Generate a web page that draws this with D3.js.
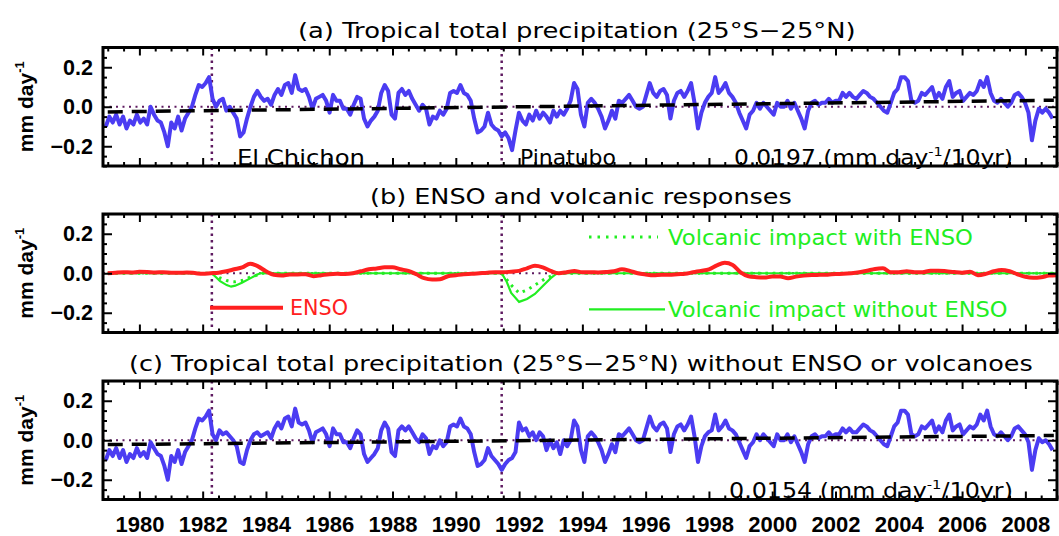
<!DOCTYPE html>
<html><head><meta charset="utf-8">
<script src="https://cdn.jsdelivr.net/npm/d3@7"></script>
<style>body{margin:0;background:#fff}svg{display:block}</style>
</head><body>
<svg id="chart" width="1059" height="536"></svg>
<script>
// ---------------- DATA ----------------
// Tropical precipitation anomalies (mm/day), sampled every ~1.3 months starting 1978.94
const seriesStart = 1978.94;
const seriesStep = 0.1088;
const precipTotal = [
 -0.10,-0.05,-0.08,-0.04,-0.09,-0.05,-0.11,-0.07,-0.09,-0.04,-0.08,-0.06,-0.09,0.00,-0.04,-0.07,-0.08,-0.13,-0.20,-0.08,
 -0.11,-0.05,-0.12,-0.06,-0.03,0.00,0.06,0.11,0.10,0.12,0.15,0.04,0.00,0.03,0.04,-0.02,0.00,-0.03,-0.06,-0.15,
 -0.13,-0.06,0.00,0.05,0.08,0.05,0.03,0.04,0.01,0.06,0.09,0.06,0.11,0.12,0.07,0.16,0.09,0.08,0.09,0.05,
 -0.01,0.04,0.05,0.06,0.03,-0.03,0.06,0.03,0.03,-0.01,-0.01,-0.04,0.01,0.05,0.04,-0.06,-0.10,-0.07,-0.05,-0.02,
 0.07,0.11,0.08,-0.04,-0.06,0.07,0.09,0.06,0.08,0.04,0.01,-0.02,0.01,-0.01,-0.09,-0.05,-0.06,-0.02,-0.04,-0.01,
 0.07,0.08,0.07,0.11,0.07,0.06,0.03,-0.06,-0.13,-0.12,-0.10,-0.03,-0.09,-0.11,-0.12,-0.15,-0.13,-0.16,-0.22,-0.12,
 -0.03,-0.07,-0.09,-0.04,-0.07,-0.02,-0.06,-0.03,-0.05,-0.08,-0.02,-0.05,-0.02,-0.04,-0.01,0.03,0.12,0.09,-0.04,-0.10,
 0.02,0.04,0.02,-0.01,-0.05,-0.11,-0.07,-0.02,-0.06,0.03,0.02,0.04,0.06,0.03,0.00,-0.01,0.00,0.06,0.12,0.07,
 0.05,0.08,0.09,0.06,-0.06,0.03,0.07,0.08,0.05,0.08,0.12,0.02,-0.11,-0.03,0.02,0.05,0.07,0.15,0.07,0.09,
 0.12,0.07,0.05,0.02,-0.03,-0.07,-0.11,-0.04,-0.02,0.02,-0.01,0.02,0.00,-0.02,-0.04,0.02,0.00,0.00,0.03,-0.01,
 0.02,-0.02,-0.06,-0.11,-0.02,0.02,0.03,0.01,0.02,0.02,0.04,0.02,0.03,0.03,0.07,0.05,0.07,0.05,0.04,0.06,
 0.08,0.07,0.05,0.04,0.02,0.00,-0.02,-0.03,0.02,0.07,0.09,0.15,0.15,0.13,0.03,0.02,0.03,0.07,0.06,0.08,
 0.10,0.04,0.07,0.04,0.10,0.13,0.05,0.07,0.08,0.03,0.05,0.07,0.06,0.08,0.13,0.10,0.15,0.07,0.03,0.02,
 0.04,0.02,0.00,0.02,0.06,0.07,0.05,0.02,-0.03,-0.17,-0.07,-0.01,-0.03,-0.01,-0.03,-0.06
];
const precipResidual = [
 -0.10,-0.05,-0.08,-0.04,-0.09,-0.05,-0.11,-0.07,-0.09,-0.04,-0.08,-0.06,-0.09,-0.01,-0.04,-0.07,-0.08,-0.13,-0.20,-0.08,
 -0.11,-0.05,-0.12,-0.06,-0.03,0.00,0.06,0.11,0.10,0.12,0.15,0.03,0.00,0.05,0.03,0.04,0.02,0.00,-0.03,-0.11,
 -0.12,-0.05,0.00,0.03,0.04,0.02,0.03,0.04,0.01,0.06,0.09,0.06,0.11,0.12,0.07,0.16,0.09,0.08,0.09,0.05,
 -0.01,0.04,0.05,0.06,0.03,-0.03,0.06,0.03,0.03,-0.01,-0.01,-0.04,0.01,0.05,0.03,-0.07,-0.11,-0.09,-0.07,-0.04,
 0.05,0.09,0.06,-0.06,-0.08,0.05,0.07,0.05,0.07,0.04,0.01,-0.01,0.03,0.01,-0.07,-0.03,-0.04,0.00,-0.03,-0.01,
 0.07,0.08,0.07,0.11,0.07,0.06,0.03,-0.06,-0.13,-0.12,-0.10,-0.04,-0.08,-0.10,-0.12,-0.15,-0.12,-0.10,-0.09,-0.06,
 0.09,0.05,0.06,0.02,0.04,0.00,0.04,0.02,-0.05,0.00,-0.04,-0.01,-0.07,0.00,-0.03,0.00,0.10,0.07,-0.05,-0.11,
 0.02,0.04,0.02,-0.01,-0.05,-0.11,-0.07,-0.02,-0.06,0.03,0.02,0.04,0.06,0.03,0.00,-0.01,0.00,0.06,0.12,0.07,
 0.05,0.08,0.09,0.06,-0.06,0.03,0.07,0.08,0.05,0.08,0.12,0.02,-0.11,-0.03,0.02,0.04,0.05,0.13,0.05,0.07,
 0.10,0.06,0.05,0.03,-0.01,-0.05,-0.09,-0.03,-0.01,0.03,0.00,0.03,0.01,-0.01,-0.03,0.03,0.00,0.00,0.03,-0.01,
 0.02,-0.02,-0.06,-0.11,-0.02,0.02,0.03,0.01,0.02,0.02,0.04,0.02,0.03,0.03,0.06,0.04,0.06,0.04,0.04,0.06,
 0.08,0.07,0.05,0.04,0.02,0.00,-0.02,-0.03,0.02,0.07,0.09,0.15,0.15,0.13,0.03,0.02,0.03,0.07,0.06,0.08,
 0.10,0.04,0.07,0.04,0.10,0.13,0.05,0.07,0.08,0.03,0.05,0.07,0.06,0.08,0.13,0.10,0.15,0.07,0.03,0.02,
 0.04,0.02,0.00,0.02,0.06,0.07,0.05,0.03,-0.01,-0.15,-0.05,0.01,-0.01,0.00,-0.02,-0.05
];
// ENSO response (mm/day), quarterly from 1979.0
const ensoStart = 1979.0;
const ensoStep = 0.25;
const ensoResponse = [
 0.000,0.003,0.005,0.004, 0.007,0.006,0.004,0.005, 0.003,0.002,0.004,0.001, -0.003,0.000,0.003,0.010,
 0.020,0.030,0.048,0.035, 0.010,-0.008,-0.012,-0.006, -0.006,-0.005,-0.015,-0.010, -0.005,-0.003,-0.004,0.000,
 0.010,0.020,0.024,0.030, 0.030,0.020,0.012,-0.005, -0.025,-0.032,-0.030,-0.015, -0.010,-0.005,-0.003,0.000,
 0.003,0.005,0.005,0.008, 0.012,0.025,0.038,0.030, 0.012,0.000,0.005,0.012, 0.005,0.005,0.004,0.006,
 0.010,0.020,0.012,0.000, -0.006,-0.010,-0.008,-0.008, -0.005,-0.003,0.005,0.012, 0.020,0.040,0.053,0.042,
 0.005,-0.015,-0.020,-0.022, -0.017,-0.017,-0.025,-0.017, -0.012,-0.009,-0.008,-0.007, -0.004,-0.003,0.000,0.005,
 0.013,0.022,0.025,0.005, 0.005,0.010,0.005,0.005, 0.013,0.013,0.010,0.006, 0.003,0.008,-0.010,-0.003,
 0.010,0.017,0.010,-0.005, -0.018,-0.023,-0.020,-0.012, -0.010
];
// Volcanic responses (mm/day)
const volcYears      = [1979.0, 1982.29, 1982.55, 1982.76, 1982.9, 1983.03, 1983.24, 1983.5, 1983.71, 1983.82, 1991.45, 1991.6, 1991.75, 1992.0, 1992.25, 1992.5, 1992.75, 1993.0, 1993.2, 2009.0];
const volcNoEnso     = [0, 0, -0.040, -0.060, -0.068, -0.063, -0.048, -0.026, -0.008, 0, 0, -0.040, -0.100, -0.145, -0.130, -0.105, -0.065, -0.025, 0, 0];
const volcWithEnso   = [0, 0, -0.024, -0.037, -0.042, -0.043, -0.037, -0.020, -0.010, 0, 0, -0.030, -0.060, -0.100, -0.085, -0.060, -0.035, -0.015, 0, 0];
// Linear trends (value at 1979.0 and 2008.9)
const trendYears = [1979.0, 2008.9];
const trendTotal = [-0.026, 0.033];
const trendResidual = [-0.022, 0.024];
// Eruptions
const eruptionNames = ["El Chichon", "Pinatubo"];
const eruptionYears = [1982.29, 1991.45];
// Axis ticks
const yearLabels = [1980,1982,1984,1986,1988,1990,1992,1994,1996,1998,2000,2002,2004,2006,2008];
const yTickLabels = [-0.2, 0.0, 0.2];
const titles = [
  "(a) Tropical total precipitation (25°S\u221225°N)",
  "(b) ENSO and volcanic responses",
  "(c) Tropical total precipitation (25°S\u221225°N) without ENSO or volcanoes"
];
const trendTexts = ["0.0197", "0.0154"];

// ---------------- DRAWING ----------------
const BLUE = "#4b3cf2", RED = "#ff2020", GREEN = "#22ee22", PURPLE = "#5e1a60";
const fReg = "'DejaVu Sans', sans-serif";
const fBold = "'Liberation Sans', Arial, sans-serif";
const svg = d3.select("#chart");
const x = d3.scaleLinear().domain([1978.85, 2009.0]).range([103, 1057]);
const panels = [{top:47.5,bottom:166},{top:214,bottom:332.5},{top:381,bottom:499.5}];
const yOf = p => d3.scaleLinear().domain([-0.3,0.3]).range([p.bottom,p.top]);

const minorX = d3.range(1979, 2009.01, 0.5);
const majorX = yearLabels;
const minorY = d3.range(-0.3, 0.3001, 0.05).map(v => +v.toFixed(2)).filter(v => !yTickLabels.some(m => Math.abs(m - v) < 1e-6));

// stretch text horizontally so that it spans the target width
function fit(t, target) {
  const nat = t.node().getComputedTextLength();
  const x0 = +t.attr("x");
  const s = target / nat;
  t.attr("transform", `translate(${x0},0) scale(${s.toFixed(4)},1) translate(${-x0},0)`);
}
function richText(g, parts, xx, yy, size, opts = {}) {
  const t = g.append("text").attr("x", xx).attr("y", yy)
    .attr("font-family", opts.family || fReg).attr("font-size", size)
    .attr("fill", opts.fill || "#000");
  if (opts.weight) t.attr("font-weight", opts.weight);
  if (opts.anchor) t.attr("text-anchor", opts.anchor);
  let raised = 0;
  parts.forEach(p => {
    if (typeof p === "string") {
      const s = t.append("tspan").text(p);
      if (raised) { s.attr("dy", raised); raised = 0; }
    } else {
      const sh = size * 0.42;
      t.append("tspan").attr("dy", -sh).attr("font-size", size * 0.62).text(p.sup);
      raised = sh;
    }
  });
  return t;
}

panels.forEach((p, i) => {
  const y = yOf(p);
  const g = svg.append("g");
  g.append("line").attr("x1", x(1978.85)).attr("x2", x(2009)).attr("y1", y(0)).attr("y2", y(0))
    .attr("stroke", PURPLE).attr("stroke-width", 2.2).attr("stroke-dasharray", "2,4.5");
  eruptionYears.forEach(ey => {
    g.append("line").attr("x1", x(ey)).attr("x2", x(ey)).attr("y1", p.top).attr("y2", p.bottom)
      .attr("stroke", PURPLE).attr("stroke-width", 2.5).attr("stroke-dasharray", "2.5,4");
  });
  if (i !== 1) {
    const vals = i === 0 ? precipTotal : precipResidual;
    const line = d3.line().x((d, k) => x(seriesStart + k * seriesStep)).y(d => y(d));
    g.append("path").attr("d", line(vals)).attr("fill", "none").attr("stroke", BLUE)
      .attr("stroke-width", 4).attr("stroke-linejoin", "round");
    const tr = i === 0 ? trendTotal : trendResidual;
    g.append("path").attr("d", d3.line().x((d, k) => x(trendYears[k])).y(d => y(d))(tr))
      .attr("fill", "none").attr("stroke", "#000").attr("stroke-width", 3.5).attr("stroke-dasharray", "15,9");
  } else {
    const vl = d3.line().x((d, k) => x(volcYears[k])).y(d => y(d));
    g.append("path").attr("d", vl(volcNoEnso)).attr("fill", "none").attr("stroke", GREEN).attr("stroke-width", 2.2);
    g.append("path").attr("d", vl(volcWithEnso)).attr("fill", "none").attr("stroke", GREEN)
      .attr("stroke-width", 3).attr("stroke-dasharray", "2.5,5");
    const el = d3.line().x((d, k) => x(ensoStart + k * ensoStep)).y(d => y(d)).curve(d3.curveMonotoneX);
    g.append("path").attr("d", el(ensoResponse)).attr("fill", "none").attr("stroke", RED)
      .attr("stroke-width", 4).attr("stroke-linejoin", "round");
    g.append("line").attr("x1", 589).attr("x2", 658).attr("y1", y(0.183)).attr("y2", y(0.183))
      .attr("stroke", GREEN).attr("stroke-width", 3).attr("stroke-dasharray", "2.5,6");
    fit(richText(g, ["Volcanic impact with ENSO"], 668, y(0.183) + 7.5, 21, {fill: GREEN}), 305);
    g.append("line").attr("x1", 589).attr("x2", 665).attr("y1", y(-0.183)).attr("y2", y(-0.183))
      .attr("stroke", GREEN).attr("stroke-width", 2.2);
    fit(richText(g, ["Volcanic impact without ENSO"], 668, y(-0.183) + 7.5, 21, {fill: GREEN}), 340);
    g.append("line").attr("x1", 210).attr("x2", 283).attr("y1", y(-0.175)).attr("y2", y(-0.175))
      .attr("stroke", RED).attr("stroke-width", 4);
    fit(richText(g, ["ENSO"], 290, y(-0.175) + 7.5, 21, {fill: RED}), 58);
  }
  g.append("rect").attr("x", x(1978.85)).attr("y", p.top).attr("width", x(2009) - x(1978.85))
    .attr("height", p.bottom - p.top).attr("fill", "none").attr("stroke", "#000").attr("stroke-width", 3);
  const tickAx = (axisFn, scale, vals, size, tr) => {
    const a = g.append("g").attr("transform", tr).call(axisFn(scale).tickValues(vals).tickSize(size).tickFormat(""));
    a.select(".domain").remove();
    a.selectAll("line").attr("stroke", "#000").attr("stroke-width", 2);
  };
  const minorOnly = minorX.filter(v => !majorX.includes(v));
  tickAx(d3.axisTop, x, majorX, 8, `translate(0,${p.bottom})`);
  tickAx(d3.axisTop, x, minorOnly, 4, `translate(0,${p.bottom})`);
  tickAx(d3.axisBottom, x, majorX, 8, `translate(0,${p.top})`);
  tickAx(d3.axisBottom, x, minorOnly, 4, `translate(0,${p.top})`);
  tickAx(d3.axisRight, y, yTickLabels, 9, `translate(${x(1978.85)},0)`);
  tickAx(d3.axisRight, y, minorY, 4, `translate(${x(1978.85)},0)`);
  tickAx(d3.axisLeft, y, yTickLabels, 9, `translate(${x(2009)},0)`);
  tickAx(d3.axisLeft, y, minorY, 4, `translate(${x(2009)},0)`);
  const yl = g.append("g").attr("transform", `translate(${x(1978.85)},0)`)
    .call(d3.axisLeft(y).tickValues(yTickLabels).tickSize(0).tickPadding(10).tickFormat(d3.format(".1f")));
  yl.select(".domain").remove();
  yl.selectAll("text").attr("font-family", fBold).attr("font-weight", "bold").attr("font-size", 21.5).attr("fill", "#000");
  richText(g, ["mm day", {sup: "-1"}], 0, 0, 21, {family: fBold, weight: "bold", anchor: "middle"})
    .attr("transform", `translate(32.5,${(p.top + p.bottom) / 2}) rotate(-90)`);
  const titleX = [298, 370, 129][i];
  const titleW = [558, 422, 904][i];
  fit(richText(g, [titles[i]], titleX, p.top - 9.5, 21), titleW);
  if (i === 0) {
    fit(richText(g, [eruptionNames[0]], 237, y(-0.255) + 7.5, 21), 128);
    fit(richText(g, [eruptionNames[1]], 520, y(-0.255) + 7.5, 21), 96);
  }
  if (i !== 1) {
    const tt = richText(g, [trendTexts[i === 0 ? 0 : 1] + " (mm day", {sup: "-1"}, "/10yr)"], i === 0 ? 734 : 729, y(-0.255) + 7.5, 21);
    fit(tt, i === 0 ? 279 : 284);
  }
});
const xl = svg.append("g").attr("transform", `translate(0,${panels[2].bottom})`)
  .call(d3.axisBottom(x).tickValues(yearLabels).tickSize(0).tickPadding(17).tickFormat(d3.format("d")));
xl.select(".domain").remove();
xl.selectAll("text").attr("font-family", fBold).attr("font-weight", "bold").attr("font-size", 22).attr("fill", "#000");
</script>
</body></html>
